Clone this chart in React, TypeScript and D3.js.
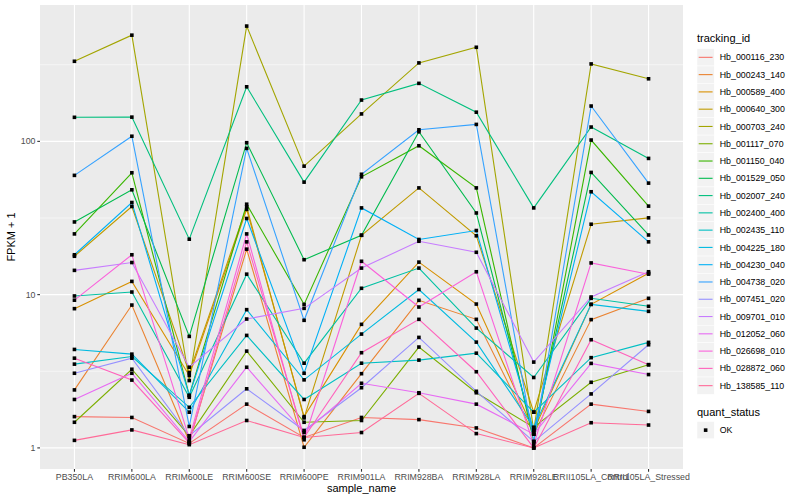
import * as d3 from "d3";

const samples = [
  "PB350LA", "RRIM600LA", "RRIM600LE", "RRIM600SE", "RRIM600PE", "RRIM901LA",
  "RRIM928BA", "RRIM928LA", "RRIM928LE", "RRII105LA_Control", "RRII105LA_Stressed",
];

const trackingIds = [
  "Hb_000116_230", "Hb_000243_140", "Hb_000589_400", "Hb_000640_300", "Hb_000703_240",
  "Hb_001117_070", "Hb_001150_040", "Hb_001529_050", "Hb_002007_240", "Hb_002400_400",
  "Hb_002435_110", "Hb_004225_180", "Hb_004230_040", "Hb_004738_020", "Hb_007451_020",
  "Hb_009701_010", "Hb_012052_060", "Hb_026698_010", "Hb_028872_060", "Hb_138585_110",
];

// FPKM + 1, one row per tracking_id, one value per sample
const hb000116 = [1.6, 1.58, 1.07, 1.93, 1.17, 1.58, 1.53, 1.35, 1.0, 1.93, 1.73];
const hb000243 = [2.39, 8.55, 1.1, 19.8, 1.01, 3.05, 9.18, 6.9, 1.23, 6.87, 9.46];
const hb000589 = [8.1, 12.2, 2.97, 36.0, 1.6, 6.4, 16.3, 8.68, 1.3, 8.64, 13.8];
const hb000640 = [17.8, 37.6, 3.1, 37.4, 1.57, 24.4, 49.7, 24.2, 1.71, 28.8, 31.7];
const hb000703 = [333, 493, 2.75, 565, 68.9, 151, 325, 411, 1.3, 320, 256];
const hb001117 = [1.47, 3.26, 1.2, 4.28, 1.47, 1.51, 4.55, 2.29, 1.36, 2.68, 3.49];
const hb001150 = [24.9, 62.4, 2.2, 38.9, 8.64, 58.7, 93.6, 49.7, 1.1, 102, 37.8];
const hb001529 = [29.8, 48.3, 5.34, 98, 16.9, 24.4, 115.5, 34.1, 1.23, 62.7, 24.5];
const hb002007 = [143.5, 143.9, 23, 227, 54.2, 186, 239, 155, 36.8, 124, 77.4];
const hb002400 = [9.8, 10.4, 2.14, 13.6, 3.57, 11.0, 14.9, 6.05, 2.88, 9.46, 8.39];
const hb002435 = [3.52, 3.95, 1.84, 5.42, 2.07, 3.57, 3.74, 4.15, 1.71, 3.88, 4.88];
const hb004225 = [4.39, 4.09, 1.71, 7.98, 2.78, 5.53, 10.8, 4.9, 1.36, 8.64, 7.78];
const hb004230 = [18.2, 39.9, 2.2, 31.4, 3.07, 36.8, 22.9, 26.2, 1.3, 46.9, 22.1];
const hb004738 = [60, 108, 1.38, 90, 6.8, 61, 119, 129, 1.1, 170, 53.4];
const hb007451 = [3.07, 3.85, 1.2, 2.43, 1.3, 2.47, 5.26, 2.34, 1.1, 2.25, 4.71];
const hb009701 = [14.4, 16.2, 3.36, 6.93, 8.14, 14.9, 22.3, 18.9, 3.63, 9.65, 14.1];
const hb012052 = [2.07, 3.07, 1.1, 3.36, 1.26, 2.64, 2.29, 1.93, 1.23, 3.56, 3.01];
const hb026698 = [9.2, 18.2, 1.15, 24.9, 1.13, 16.5, 8.3, 14.1, 1.05, 16.1, 13.6];
const hb028872 = [3.85, 2.77, 1.08, 22.1, 1.17, 4.18, 6.9, 3.14, 1.0, 5.08, 3.49];
const hb138585 = [1.12, 1.31, 1.05, 1.51, 1.17, 1.26, 2.27, 1.24, 1.0, 1.46, 1.41];

const seriesValues = [
  hb000116, hb000243, hb000589, hb000640, hb000703, hb001117, hb001150, hb001529, hb002007, hb002400,
  hb002435, hb004225, hb004230, hb004738, hb007451, hb009701, hb012052, hb026698, hb028872, hb138585,
];

const yTicks = [1, 10, 100];
const yMinor = [Math.sqrt(10), Math.sqrt(1000), Math.sqrt(100000)];

// ggplot's hue palette (polar Luv -> sRGB)
function hclLuv(h: number, c: number, l: number) {
  const hr = (h * Math.PI) / 180;
  const u = c * Math.cos(hr);
  const v = c * Math.sin(hr);
  const Y = l > 8 ? Math.pow((l + 16) / 116, 3) : l / 903.3;
  const Xn = 0.95047, Yn = 1, Zn = 1.08883;
  const den = Xn + 15 * Yn + 3 * Zn;
  const un = (4 * Xn) / den, vn = (9 * Yn) / den;
  const up = u / (13 * l) + un;
  const vp = v / (13 * l) + vn;
  const X = (9 * Y * up) / (4 * vp);
  const Z = (Y * (12 - 3 * up - 20 * vp)) / (4 * vp);
  const lin = [
    3.240479 * X - 1.53715 * Y - 0.498535 * Z,
    -0.969256 * X + 1.875992 * Y + 0.041556 * Z,
    0.055648 * X - 0.204043 * Y + 1.057311 * Z,
  ];
  const g = lin.map((t) => {
    const s = t <= 0.0031308 ? 12.92 * t : 1.055 * Math.pow(t, 1 / 2.4) - 0.055;
    return Math.round(Math.max(0, Math.min(1, s)) * 255);
  });
  return d3.rgb(g[0], g[1], g[2]).formatHex();
}

const colors = trackingIds.map((_, i) => hclLuv(15 + (360 / trackingIds.length) * i, 100, 65));

const W = 800, H = 500;
const panel = { left: 40, right: 683, top: 5, bottom: 469 };
const font = "'Liberation Sans', Arial, Helvetica, sans-serif";

export default function App() {
  const all = seriesValues.flat();
  const lo = Math.log10(d3.min(all)!);
  const hi = Math.log10(d3.max(all)!);
  const pad = (hi - lo) * 0.05;

  const x = d3.scalePoint<string>().domain(samples).range([panel.left, panel.right]).padding(0.6);
  const y = d3
    .scaleLog()
    .domain([Math.pow(10, lo - pad), Math.pow(10, hi + pad)])
    .range([panel.bottom, panel.top]);

  const line = d3
    .line<number>()
    .x((_, i) => x(samples[i])!)
    .y((d) => y(d));

  const legX = 697;
  const keyH = 17.28;
  const keyTop = 48.7;

  return (
    <svg width={W} height={H} style={{ position: "absolute", left: 0, top: 0, background: "#fff" }} fontFamily={font}>
      <rect x={panel.left} y={panel.top} width={panel.right - panel.left} height={panel.bottom - panel.top} fill="#EBEBEB" />
      {yMinor.map((t) => (
        <line key={"m" + t} x1={panel.left} x2={panel.right} y1={y(t)} y2={y(t)} stroke="#fff" strokeWidth={0.55} />
      ))}
      {yTicks.map((t) => (
        <line key={"g" + t} x1={panel.left} x2={panel.right} y1={y(t)} y2={y(t)} stroke="#fff" strokeWidth={1.1} />
      ))}
      {samples.map((s) => (
        <line key={"v" + s} x1={x(s)} x2={x(s)} y1={panel.top} y2={panel.bottom} stroke="#fff" strokeWidth={1.1} />
      ))}

      {seriesValues.map((vals, i) => (
        <path key={trackingIds[i]} d={line(vals)!} fill="none" stroke={colors[i]} strokeWidth={1.1} />
      ))}
      {seriesValues.map((vals, i) =>
        vals.map((v, j) => (
          <rect key={i + "-" + j} x={x(samples[j])! - 1.8} y={y(v) - 1.8} width={3.6} height={3.6} fill="#000" />
        ))
      )}

      {/* axes */}
      {yTicks.map((t) => (
        <g key={"yt" + t}>
          <line x1={panel.left - 2.7} x2={panel.left} y1={y(t)} y2={y(t)} stroke="#333" strokeWidth={1.1} />
          <text x={panel.left - 4.5} y={y(t)} dy="0.35em" textAnchor="end" fontSize={8.8} fill="#4D4D4D">
            {t}
          </text>
        </g>
      ))}
      {samples.map((s) => (
        <g key={"xt" + s}>
          <line x1={x(s)} x2={x(s)} y1={panel.bottom} y2={panel.bottom + 2.7} stroke="#333" strokeWidth={1.1} />
          <text x={x(s)} y={panel.bottom + 11} textAnchor="middle" fontSize={8.8} fill="#4D4D4D">
            {s}
          </text>
        </g>
      ))}
      <text x={(panel.left + panel.right) / 2} y={492} textAnchor="middle" fontSize={11} fill="#000">
        sample_name
      </text>
      <text
        transform={`translate(15,${(panel.top + panel.bottom) / 2}) rotate(-90)`}
        textAnchor="middle"
        fontSize={11}
        fill="#000"
      >
        FPKM + 1
      </text>

      {/* legend: tracking_id */}
      <text x={legX} y={42} fontSize={11} fill="#000">
        tracking_id
      </text>
      {trackingIds.map((id, i) => {
        const top = keyTop + i * keyH;
        return (
          <g key={"lg" + id}>
            <rect x={legX} y={top} width={keyH} height={keyH} fill="#F2F2F2" stroke="#fff" strokeWidth={0.5} />
            <line x1={legX + 1.7} x2={legX + keyH - 1.7} y1={top + keyH / 2} y2={top + keyH / 2} stroke={colors[i]} strokeWidth={1.1} />
            <text x={legX + keyH + 5.5} y={top + keyH / 2} dy="0.35em" fontSize={8.8} fill="#000">
              {id}
            </text>
          </g>
        );
      })}

      {/* legend: quant_status */}
      <text x={legX} y={416} fontSize={11} fill="#000">
        quant_status
      </text>
      <rect x={legX} y={421.5} width={keyH} height={keyH} fill="#F2F2F2" stroke="#fff" strokeWidth={0.5} />
      <rect x={legX + keyH / 2 - 1.8} y={421.5 + keyH / 2 - 1.8} width={3.6} height={3.6} fill="#000" />
      <text x={legX + keyH + 5.5} y={421.5 + keyH / 2} dy="0.35em" fontSize={8.8} fill="#000">
        OK
      </text>
    </svg>
  );
}
